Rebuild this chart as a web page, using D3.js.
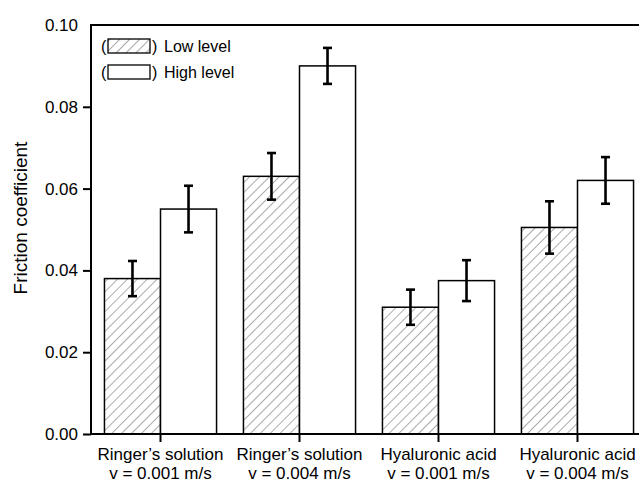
<!DOCTYPE html>
<html>
<head>
<meta charset="utf-8">
<script src="https://cdn.jsdelivr.net/npm/d3@7"></script>
<style>
  body { margin: 0; background: #fff; }
  text { font-family: "Liberation Sans", Arial, sans-serif; fill: #000; }
</style>
</head>
<body>
<script>
// data
var groups = ["Ringer’s solution|v = 0.001 m/s", "Ringer’s solution|v = 0.004 m/s",
              "Hyaluronic acid|v = 0.001 m/s", "Hyaluronic acid|v = 0.004 m/s"];
var levels = ["low", "high"];
var lowValues = [0.038, 0.063, 0.031, 0.0505];
var lowErrors = [0.0043, 0.0057, 0.0043, 0.0064];
var highValues = [0.055, 0.090, 0.0375, 0.062];
var highErrors = [0.0057, 0.0044, 0.005, 0.0057];
var yTicks = [0, 0.02, 0.04, 0.06, 0.08, 0.10];
var legendLabels = ["Low level", "High level"];

var width = 639, height = 482;
var plotLeft = 91, plotRight = 647, plotTop = 25, plotBottom = 434;

var svg = d3.select("body").append("svg")
    .attr("width", width)
    .attr("height", height);

var defs = svg.append("defs");
var hatch = defs.append("pattern")
    .attr("id", "hatch")
    .attr("patternUnits", "userSpaceOnUse")
    .attr("width", 7)
    .attr("height", 7)
    .attr("patternTransform", "rotate(45)");
hatch.append("rect").attr("width", 7).attr("height", 7).attr("fill", "#fff");
hatch.append("line")
    .attr("x1", 0).attr("y1", 0).attr("x2", 0).attr("y2", 7)
    .attr("stroke", "#444").attr("stroke-width", 0.9);

var x0 = d3.scaleBand().domain(groups).range([plotLeft, plotRight]).padding(0);
var x1 = d3.scaleBand().domain(levels).range([0, x0.bandwidth()])
    .paddingInner(0).paddingOuter(0.24);
var y = d3.scaleLinear().domain([0, 0.1]).range([plotBottom, plotTop]);

// table for drawing
var rows = [];
groups.forEach(function (g, i) {
    rows.push({ group: g, level: "low", value: lowValues[i], err: lowErrors[i] });
    rows.push({ group: g, level: "high", value: highValues[i], err: highErrors[i] });
});

// bars
svg.append("g").selectAll("rect")
    .data(rows)
    .enter().append("rect")
    .attr("x", function (d) { return x0(d.group) + x1(d.level); })
    .attr("y", function (d) { return y(d.value); })
    .attr("width", x1.bandwidth())
    .attr("height", function (d) { return y(0) - y(d.value); })
    .attr("fill", function (d) { return d.level === "low" ? "url(#hatch)" : "#fff"; })
    .attr("stroke", "#000")
    .attr("stroke-width", 1.5);

// error bars
var eb = svg.append("g").selectAll("g")
    .data(rows)
    .enter().append("g")
    .attr("stroke", "#000")
    .attr("stroke-width", 2.6);
function cx(d) { return x0(d.group) + x1(d.level) + x1.bandwidth() / 2; }
eb.append("line")
    .attr("x1", cx).attr("x2", cx)
    .attr("y1", function (d) { return y(d.value + d.err); })
    .attr("y2", function (d) { return y(d.value - d.err); });
eb.append("line")
    .attr("x1", function (d) { return cx(d) - 4.5; })
    .attr("x2", function (d) { return cx(d) + 4.5; })
    .attr("y1", function (d) { return y(d.value + d.err); })
    .attr("y2", function (d) { return y(d.value + d.err); });
eb.append("line")
    .attr("x1", function (d) { return cx(d) - 4.5; })
    .attr("x2", function (d) { return cx(d) + 4.5; })
    .attr("y1", function (d) { return y(d.value - d.err); })
    .attr("y2", function (d) { return y(d.value - d.err); });

// y axis
var yAxis = svg.append("g")
    .attr("transform", "translate(" + plotLeft + ",0)")
    .call(d3.axisLeft(y).tickValues(yTicks).tickSize(8).tickSizeOuter(0)
        .tickFormat(d3.format(".2f")));
yAxis.select(".domain").remove();
yAxis.selectAll(".tick line").attr("stroke-width", 2)
    .attr("x2", function (d) { return d === 0.1 ? 0 : -8; });
yAxis.selectAll(".tick text")
    .attr("x", -13)
    .style("font-size", "17px")
    .style("font-family", "'Liberation Sans', Arial, sans-serif");

// x axis
var xAxis = svg.append("g")
    .attr("transform", "translate(0," + plotBottom + ")")
    .call(d3.axisBottom(x0).tickSize(8).tickSizeOuter(0).tickFormat(""));
xAxis.select(".domain").remove();
xAxis.selectAll(".tick line").attr("stroke-width", 2);
var xl = xAxis.selectAll(".tick text")
    .style("font-size", "17px")
    .style("font-family", "'Liberation Sans', Arial, sans-serif")
    .attr("y", 0).attr("dy", null);
xl.each(function (d) {
    var parts = d.split("|");
    var t = d3.select(this);
    t.append("tspan").attr("x", 0).attr("y", 26).text(parts[0]);
    t.append("tspan").attr("x", 0).attr("y", 45).text(parts[1]);
});

// frame
svg.append("path")
    .attr("d", "M" + plotRight + "," + plotTop + "H" + plotLeft + "V" + plotBottom + "H" + plotRight)
    .attr("fill", "none")
    .attr("stroke", "#000")
    .attr("stroke-width", 2);

// y label
svg.append("text")
    .attr("transform", "translate(27,218) rotate(-90)")
    .attr("text-anchor", "middle")
    .style("font-size", "19px")
    .text("Friction coefficient");

// legend
var legend = svg.append("g").selectAll("g")
    .data(legendLabels)
    .enter().append("g")
    .attr("transform", function (d, i) { return "translate(0," + (i * 26) + ")"; });
legend.append("text").attr("x", 101).attr("y", 52).style("font-size", "16px").text("(");
legend.append("rect")
    .attr("x", 108).attr("y", 39).attr("width", 42).attr("height", 14)
    .attr("fill", function (d, i) { return i === 0 ? "url(#hatch)" : "#fff"; })
    .attr("stroke", "#000").attr("stroke-width", 1.3);
legend.append("text").attr("x", 152).attr("y", 52).style("font-size", "16px").text(")");
legend.append("text").attr("x", 164).attr("y", 52).style("font-size", "16px")
    .text(function (d) { return d; });
</script>
</body>
</html>
